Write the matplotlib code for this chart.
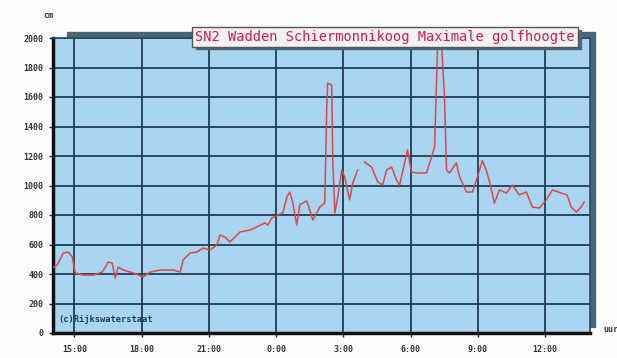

# Maximale golfhoogte Schiermonnikoog over 24 uur
import numpy as np
import matplotlib.pyplot as plt
from matplotlib.patches import Rectangle

titel = 'SN2 Wadden Schiermonnikoog Maximale golfhoogte'
bron = '(c)Rijkswaterstaat'

# uren na 14:00
uren = [0.0, 0.24, 0.51, 0.73, 0.91, 1.04, 1.40, 1.85, 2.25, 2.51, 2.69, 2.82,
        2.96, 3.18, 3.63, 4.07, 4.38, 4.83, 5.41, 5.72, 5.85, 6.16, 6.47, 6.74,
        7.05, 7.36, 7.50, 7.72, 7.94, 8.39, 8.83, 9.14, 9.50, 9.63, 9.81, 10.08,
        10.30, 10.48, 10.61, 10.75, 10.92, 11.06, 11.37, 11.64, 11.95, 12.17,
        12.26, 12.30, 12.48, 12.53, 12.62, 12.75, 12.93, 13.06, 13.28, 13.42,
        13.64, 13.80, 13.95, 14.26, 14.53, 14.75, 14.93, 15.15, 15.37, 15.51,
        15.73, 15.86, 16.04, 16.26, 16.71, 16.93, 17.07, 17.20, 17.38, 17.51,
        17.60, 17.73, 18.04, 18.18, 18.49, 18.76, 18.98, 19.20, 19.38, 19.50,
        19.74, 19.96, 20.27, 20.54, 20.85, 21.16, 21.43, 21.74, 22.05, 22.32,
        22.72, 22.98, 23.16, 23.39, 23.61, 23.74]
# golfhoogte in cm (nan = ontbrekende meting)
hoogte = [440, 461, 542, 549, 515, 407, 393, 393, 413, 481, 474, 373,
          447, 427, 407, 380, 413, 427, 427, 413, 495, 542, 549, 576,
          563, 597, 664, 651, 617, 685, 698, 719, 746, 732, 780, 800,
          814, 922, 956, 881, 732, 870, 895, 766, 854, 881,
          1532, 1695, 1681, 1153, 814, 922, 1105, 1058, 902, 1017,
          1105, np.nan, 1159, 1125, 1024, 1003, 1105, 1125, 1037, 1003,
          1153, 1241, 1092, 1085, 1085, 1193, 1261, 1939, 1953, 1600,
          1105, 1085, 1153, 1060, 956, 956, 1058, 1170, 1100, 1037,
          881, 970, 949, 1003, 936, 956, 854, 847, 902, 970,
          949, 936, 854, 820, 854, 888]

tick_uren = [1, 4, 7, 10, 13, 16, 19, 22]
tick_labels = ['15:00', '18:00', '21:00', '0:00', '3:00', '6:00', '9:00', '12:00']
y_ticks = list(range(0, 2001, 200))

fig = plt.figure(figsize=(6.17, 3.58), dpi=100)
fig.patch.set_facecolor('#fdfdfd')

# schaduw achter het plotvlak
fig.patches.append(Rectangle((67 / 617, 31 / 358), 528 / 617, 295 / 358,
                             transform=fig.transFigure, color='#4b6676',
                             zorder=0))

ax = fig.add_axes([53 / 617, 25 / 358, 537 / 617, 295 / 358])
ax.set_zorder(1)
ax.set_facecolor('#aad5f0')
ax.set_xlim(0.05, 24)
ax.set_ylim(0, 2000)

ax.plot(uren, hoogte, color='#d8484f', lw=1.1, zorder=3)

mono = 'DejaVu Sans Mono'
ax.set_xticks(tick_uren)
ax.set_xticklabels(tick_labels, fontsize=6, family=mono, fontweight='bold',
                   color='#333333')
ax.set_yticks(y_ticks)
ax.set_yticklabels([str(v) for v in y_ticks], fontsize=6, family=mono,
                   fontweight='bold', color='#333333')
ax.tick_params(axis='x', length=3, width=1, color='#222222', pad=6)
ax.tick_params(axis='y', length=3, width=1, color='#222222', pad=4)
ax.grid(True, color='#1d3d55', lw=1.3)
ax.set_axisbelow(True)

for s in ['top', 'right']:
    ax.spines[s].set_color('#2a4a60')
    ax.spines[s].set_linewidth(1.2)
for s in ['left', 'bottom']:
    ax.spines[s].set_color('#111111')
    ax.spines[s].set_linewidth(2.5)

# titelvak rechtsboven, met schaduw
fig.patches.append(Rectangle((196 / 617, 1 - 49 / 358), 385 / 617, 19 / 358,
                             transform=fig.transFigure, color='#4b6676',
                             zorder=4))
fig.text(385 / 617, 1 - 37 / 358, titel, ha='center', va='center',
         fontsize=9.8, family=mono, color='#d02040', zorder=5,
         bbox=dict(boxstyle='square,pad=0.25', fc='#f4f0f4', ec='#555555',
                   lw=1.0))

ax.text(0.01, 0.03, bron, transform=ax.transAxes, fontsize=6.3, family=mono,
        fontweight='bold', color='#1d3d5f', ha='left', va='bottom')

fig.text(48 / 617, 1 - 16 / 358, 'cm', fontsize=6, family=mono,
         fontweight='bold', color='#333333', ha='center', va='center')
fig.text(603 / 617, 1 - 330 / 358, 'uur', fontsize=6, family=mono,
         fontweight='bold', color='#333333', ha='left', va='center')

fig.savefig('out.png', dpi=100)
